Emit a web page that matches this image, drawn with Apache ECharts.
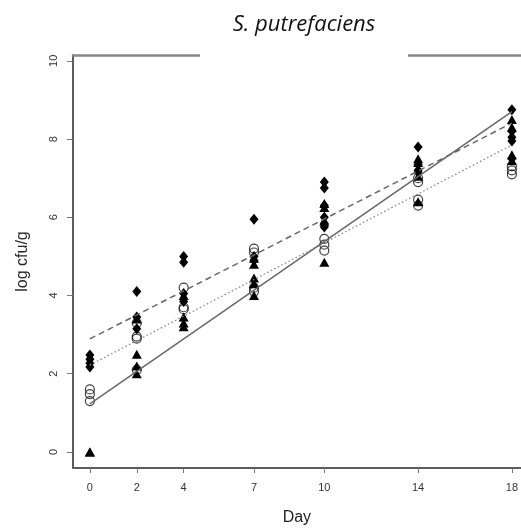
<!DOCTYPE html>
<html>
<head>
<meta charset="utf-8">
<script src="https://cdn.jsdelivr.net/npm/echarts@6/dist/echarts.min.js"></script>
<style>
  html, body { margin: 0; padding: 0; background: #fff; }
  #chart { width: 521px; height: 531px; }
</style>
</head>
<body>
<div id="chart"></div>
<script>
// sampling days (also the x tick labels)
var days = [0, 2, 4, 7, 10, 14, 18];
var yTicks = [0, 2, 4, 6, 8, 10];

// replicate counts per day
var diamondVals = [
  [2.48, 2.37, 2.27, 2.17],
  [4.1, 3.45, 3.15],
  [5.0, 4.85, 4.05, 3.85],
  [5.95, 5.0, 4.9],
  [6.9, 6.75, 6.3, 6.0, 5.85, 5.75],
  [7.8, 7.35, 7.2, 7.15],
  [8.75, 8.2, 8.05, 7.95, 7.5]
];
var circleVals = [
  [1.6, 1.48, 1.3],
  [3.3, 2.95, 2.9, 2.1],
  [4.2, 3.7, 3.65],
  [5.2, 5.1, 4.2, 4.1],
  [5.45, 5.3, 5.15],
  [7.0, 6.9, 6.45, 6.3],
  [7.3, 7.2, 7.1]
];
var triangleVals = [
  [0, 0],
  [3.4, 2.5, 2.2, 2.0],
  [4.0, 3.45, 3.3, 3.2],
  [4.95, 4.8, 4.45, 4.3, 4.0],
  [6.35, 6.25, 5.9, 4.85],
  [7.5, 7.4, 7.05, 6.4],
  [8.5, 8.3, 7.6, 7.45]
];

// fitted lines: value at day 0 and day 18
var dashedFit = [2.89, 8.41];
var dottedFit = [2.22, 7.85];
var solidFit = [1.23, 8.7];

function pairs(vals) {
  var out = [];
  vals.forEach(function (list, i) {
    list.forEach(function (v) { out.push([days[i], v]); });
  });
  return out;
}
function fitLine(f) {
  return [[days[0], f[0]], [days[days.length - 1], f[1]]];
}

var axisCol = "#5c5c5c";
var chart = echarts.init(document.getElementById("chart"));
chart.setOption({
  animation: false,
  backgroundColor: "#fff",
  textStyle: { fontFamily: "Liberation Sans, Arial, sans-serif" },
  grid: { left: 73, right: 0, top: 55, bottom: 63 },
  xAxis: [
    {
      type: "value",
      min: -0.72,
      max: 18.38,
      name: "Day",
      nameLocation: "middle",
      nameGap: 42,
      nameTextStyle: { fontSize: 16, color: "#222" },
      splitLine: { show: false },
      axisLine: { show: true, onZero: false, lineStyle: { color: axisCol, width: 2 } },
      axisTick: { show: true, customValues: days, length: 5, lineStyle: { color: "#777" } },
      axisLabel: { customValues: days, fontSize: 11, color: "#333", margin: 14 }
    },
    {
      type: "value",
      position: "top",
      min: -0.72,
      max: 18.38,
      splitLine: { show: false },
      axisLine: { show: true, onZero: false, lineStyle: { color: "#888", width: 2.5 } },
      axisTick: { show: false },
      axisLabel: { show: false }
    }
  ],
  yAxis: {
    type: "value",
    min: -0.41,
    max: 10.15,
    name: "log cfu/g",
    nameLocation: "middle",
    nameGap: 42,
    nameRotate: 90,
    nameTextStyle: { fontSize: 16, color: "#222" },
    splitLine: { show: false },
    axisLine: { show: true, onZero: false, lineStyle: { color: axisCol, width: 2 } },
    axisTick: { show: true, customValues: yTicks, length: 6, lineStyle: { color: "#777" } },
    axisLabel: { customValues: yTicks, rotate: 90, fontSize: 11, color: "#333", margin: 14 }
  },
  series: [
    {
      type: "line", data: fitLine(dashedFit), symbol: "none", z: 3,
      lineStyle: { color: "#666", width: 1.5, type: [6, 4] }
    },
    {
      type: "line", data: fitLine(dottedFit), symbol: "none", z: 3,
      lineStyle: { color: "#888", width: 1.3, type: [1.5, 2.5] }
    },
    {
      type: "line", data: fitLine(solidFit), symbol: "none", z: 3,
      lineStyle: { color: "#666", width: 1.5 }
    },
    {
      type: "scatter", data: pairs(circleVals), symbol: "circle", symbolSize: 9,
      itemStyle: { color: "rgba(255,255,255,0)", borderColor: "#111", borderWidth: 1.2 }
    },
    {
      type: "scatter", data: pairs(diamondVals), symbol: "diamond", symbolSize: [9, 11],
      itemStyle: { color: "#000", opacity: 1 }
    },
    {
      type: "scatter", data: pairs(triangleVals), symbol: "triangle", symbolSize: [10, 9],
      itemStyle: { color: "#000", opacity: 1 }
    }
  ],
  graphic: [
    {
      type: "rect", z: 100,
      shape: { x: 200, y: 0, width: 208, height: 62 },
      style: { fill: "#fff" }
    },
    {
      type: "text", z: 101, x: 304, y: 25,
      style: {
        text: "S. putrefaciens",
        font: "italic 22px 'Open Sans', sans-serif",
        fill: "#111",
        align: "center",
        verticalAlign: "middle"
      }
    }
  ]
});
</script>
</body>
</html>
